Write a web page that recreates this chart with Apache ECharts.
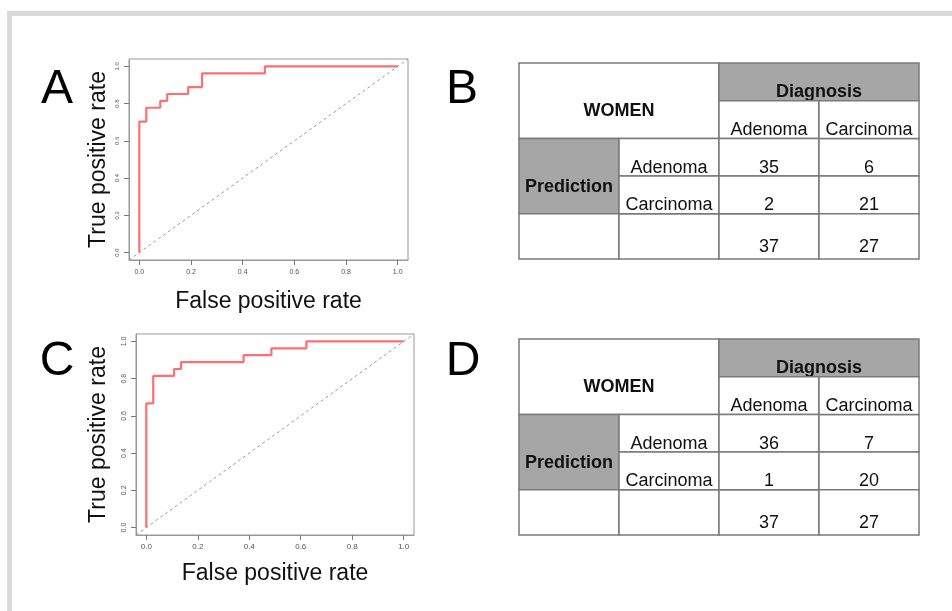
<!DOCTYPE html>
<html>
<head>
<meta charset="utf-8">
<script src="https://cdn.jsdelivr.net/npm/echarts@6.0.0/dist/echarts.min.js"></script>
<style>
    html, body { margin: 0; padding: 0; background: #fff; }
    #frame {
        position: absolute; left: 7px; top: 11px; right: 0; bottom: 0;
        border-left: 5px solid #d9d9d9; border-top: 5px solid #d9d9d9;
    }
    #roc-chart-container { position: absolute; left: 0; top: 0; width: 952px; height: 611px; }
</style>
</head>
<body>
<div id="frame"></div>
<div id="roc-chart-container"></div>
<script>
// ROC curves (vertices of the step curve)
var fprA = [0, 0, 0.027, 0.027, 0.081, 0.081, 0.108, 0.108, 0.189, 0.189, 0.243, 0.243, 0.486, 0.486, 1];
var tprA = [0, 0.704, 0.704, 0.778, 0.778, 0.815, 0.815, 0.852, 0.852, 0.889, 0.889, 0.963, 0.963, 1, 1];
var fprC = [0, 0, 0.027, 0.027, 0.108, 0.108, 0.135, 0.135, 0.378, 0.378, 0.486, 0.486, 0.622, 0.622, 1];
var tprC = [0, 0.667, 0.667, 0.815, 0.815, 0.852, 0.852, 0.889, 0.889, 0.926, 0.926, 0.963, 0.963, 1, 1];
var tickValues = [0, 0.2, 0.4, 0.6, 0.8, 1.0];

// confusion tables
var tableTitle = 'WOMEN';
var colHeader = 'Diagnosis';
var rowHeader = 'Prediction';
var classes = ['Adenoma', 'Carcinoma'];
var countsB = [[35, 6], [2, 21]];
var totalsB = [37, 27];
var countsD = [[36, 7], [1, 20]];
var totalsD = [37, 27];

var panelLetters = ['A', 'B', 'C', 'D'];

var RocDashboard = function () {
    var axisLo = -0.04, axisHi = 1.04;
    var font = 'Liberation Sans';
    var grayFill = '#a6a6a6';

    var _rocAxis = function (grid, vertical, labelSize, gap, margin) {
        return {
            type: 'value',
            gridIndex: grid,
            min: axisLo,
            max: axisHi,
            name: vertical ? 'True positive rate' : 'False positive rate',
            nameLocation: 'middle',
            nameGap: gap,
            nameTextStyle: { fontFamily: font, fontSize: 23, color: '#111' },
            axisLine: { show: true, onZero: false, lineStyle: { color: '#999' } },
            axisTick: { show: true, length: 5, customValues: tickValues, lineStyle: { color: '#777' } },
            axisLabel: {
                customValues: tickValues,
                fontFamily: font,
                fontSize: labelSize,
                color: '#555',
                rotate: vertical ? 90 : 0,
                margin: margin,
                formatter: function (v) { return v.toFixed(1); }
            },
            splitLine: { show: false }
        };
    };

    var _tableAxis = function (grid, vertical) {
        return {
            type: 'value', gridIndex: grid,
            min: 0, max: vertical ? 5.2 : 4,
            inverse: vertical,
            show: false
        };
    };

    // [col0, col1, row0, row1, text, bold, fill]
    var _tableCells = function (counts, totals) {
        var cells = [
            [0, 2, 0, 2, tableTitle, true, '#fff'],
            [2, 4, 0, 1, colHeader, true, grayFill],
            [0, 1, 2, 4, rowHeader, true, grayFill],
            [0, 1, 4, 5.2, '', false, '#fff'],
            [1, 2, 4, 5.2, '', false, '#fff']
        ];
        for (var i = 0; i < classes.length; i++) {
            cells.push([2 + i, 3 + i, 1, 2, classes[i], false, '#fff']);
            cells.push([1, 2, 2 + i, 3 + i, classes[i], false, '#fff']);
            for (var j = 0; j < classes.length; j++) {
                cells.push([2 + j, 3 + j, 2 + i, 3 + i, String(counts[i][j]), false, '#fff']);
            }
            cells.push([2 + i, 3 + i, 4, 5.2, String(totals[i]), false, '#fff']);
        }
        return cells;
    };

    var _tableSeries = function (grid, cells) {
        return {
            type: 'custom',
            xAxisIndex: grid,
            yAxisIndex: grid,
            data: cells.map(function (c) { return [c[0], c[1], c[2], c[3]]; }),
            encode: { x: [0, 1], y: [2, 3] },
            renderItem: function (params, api) {
                var c = cells[params.dataIndex];
                var p0 = api.coord([c[0], c[2]]);
                var p1 = api.coord([c[1], c[3]]);
                return {
                    type: 'group',
                    children: [
                        {
                            type: 'rect',
                            shape: { x: p0[0], y: p0[1], width: p1[0] - p0[0], height: p1[1] - p0[1] },
                            style: { fill: c[6], stroke: '#7a7a7a', lineWidth: 1.5 }
                        },
                        {
                            type: 'text',
                            style: {
                                x: (p0[0] + p1[0]) / 2,
                                y: (p0[1] + p1[1]) / 2 + 10.5,
                                text: c[4],
                                align: 'center',
                                verticalAlign: 'middle',
                                font: (c[5] ? 'bold ' : '') + '18px "Liberation Sans"',
                                fill: '#111'
                            }
                        }
                    ]
                };
            }
        };
    };

    var _zip = function (xs, ys) {
        return xs.map(function (x, i) { return [x, ys[i]]; });
    };

    var _rocSeries = function (grid, fpr, tpr) {
        return [
            {
                type: 'line', xAxisIndex: grid, yAxisIndex: grid,
                data: [[axisLo, axisLo], [axisHi, axisHi]],
                symbol: 'none', silent: true,
                lineStyle: { color: '#999', width: 1, type: [3, 3] }
            },
            {
                type: 'line', xAxisIndex: grid, yAxisIndex: grid,
                data: _zip(fpr, tpr),
                symbol: 'none',
                lineStyle: { color: '#ff6f6f', width: 2.2 }
            }
        ];
    };

    var _echartsRocDashboard = function () {
        var dom = document.getElementById('roc-chart-container');
        var rocChart = echarts.init(dom, null, { renderer: 'canvas' });

        var letterPos = [[57, 90], [462, 90], [57, 362], [463, 362]];

        var option = {
            animation: false,
            grid: [
                { left: 129, top: 59, width: 279, height: 201, show: true, borderColor: '#999', borderWidth: 1 },
                { left: 136, top: 334, width: 278, height: 201, show: true, borderColor: '#999', borderWidth: 1 },
                { left: 519, top: 63, width: 400, height: 196 },
                { left: 519, top: 339, width: 400, height: 196 }
            ],
            xAxis: [
                _rocAxis(0, false, 7, 30, 9),
                _rocAxis(1, false, 8, 27, 8),
                _tableAxis(2, false),
                _tableAxis(3, false)
            ],
            yAxis: [
                _rocAxis(0, true, 6, 19, 9),
                _rocAxis(1, true, 7, 26, 8),
                _tableAxis(2, true),
                _tableAxis(3, true)
            ],
            series: []
                .concat(_rocSeries(0, fprA, tprA))
                .concat(_rocSeries(1, fprC, tprC))
                .concat([
                    _tableSeries(2, _tableCells(countsB, totalsB)),
                    _tableSeries(3, _tableCells(countsD, totalsD))
                ]),
            graphic: panelLetters.map(function (t, i) {
                return {
                    type: 'text',
                    x: letterPos[i][0],
                    y: letterPos[i][1],
                    style: {
                        text: t,
                        align: 'center',
                        verticalAlign: 'middle',
                        font: '48px "Liberation Sans"',
                        fill: '#000'
                    }
                };
            })
        };

        rocChart.setOption(option);
        window.addEventListener('resize', rocChart.resize);
    };

    return {
        init: function () {
            _echartsRocDashboard();
        }
    };
}();

document.addEventListener('DOMContentLoaded', function () {
    RocDashboard.init();
});
</script>
</body>
</html>
